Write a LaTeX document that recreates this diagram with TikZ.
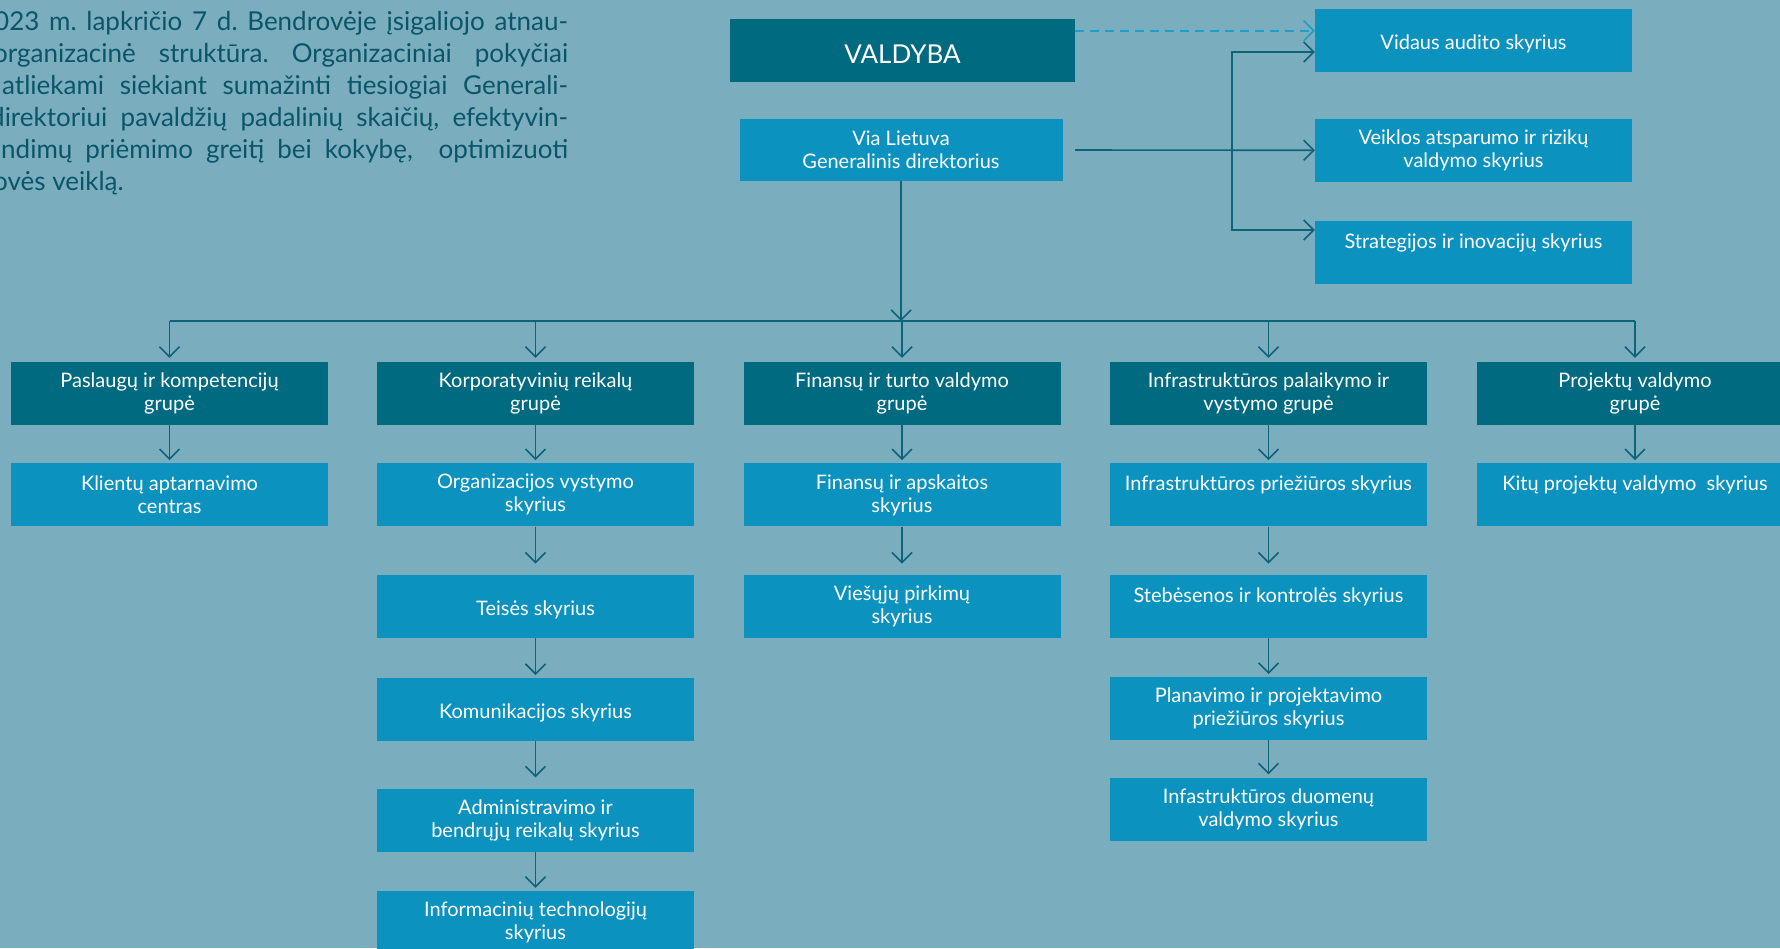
\documentclass[tikz,border=0pt]{standalone}
\usepackage{fontspec}
\setmainfont{Lato}
\usepackage{xcolor}
\usetikzlibrary{positioning,arrows.meta}

\definecolor{bgblue}{HTML}{7AADBE}
\definecolor{darkteal}{HTML}{006A80}
\definecolor{boxblue}{HTML}{0C92BE}
\definecolor{linkteal}{HTML}{0D6478}
\definecolor{dashblue}{HTML}{1E9FC8}
\definecolor{introtext}{HTML}{0B5568}

\tikzset{
  unit/.style={fill=boxblue, text=white, inner sep=0pt, minimum width=317pt,
    minimum height=63pt, align=center, font=\fontsize{20}{23}\selectfont,
    execute at begin node={\rule{0pt}{22pt}}},
  group/.style={unit, fill=darkteal},
  conn/.style={draw=linkteal, line width=1.6pt, -{Straight Barb[length=10pt,width=20pt]}},
  gap/.style={shorten >=11pt},
  bus/.style={draw=linkteal, line width=1.6pt},
  intro/.style={anchor=base west, inner sep=0pt, text=introtext,
    font=\fontsize{26}{32}\selectfont\frenchspacing}
}

\begin{document}
\begin{tikzpicture}[x=1pt,y=-1pt]
  \fill[bgblue] (0,0) rectangle (1780,948);
  \useasboundingbox (0,0) rectangle (1780,948);
  \clip (0,0) rectangle (1780,948);

  % intro text, cut at the left edge
  \node[intro] (line1) at (-6,30) {\makebox[574pt][s]{023 m. lapkričio 7 d. Bendrovėje įsigaliojo atnau-}};
  \node[intro] (line2) at (-7,62) {\makebox[575pt][s]{organizacinė struktūra. Organizaciniai pokyčiai}};
  \node[intro] (line3) at (2,94) {\makebox[566pt][s]{atliekami siekiant sumažinti tiesiogiai Generali-}};
  \node[intro] (line4) at (-10,126) {\makebox[578pt][s]{direktoriui pavaldžių padalinių skaičių, efektyvin-}};
  \node[intro] (line5) at (1,158) {\makebox[567pt][s]{ndimų priėmimo greitį bei kokybę,~ optimizuoti}};
  \node[intro] (line6) at (-7,190) {ovės veiklą.};

  % top level
  \node[group, minimum width=345pt, font=\fontsize{26}{30}\selectfont,
    execute at begin node={\rule{0pt}{26pt}}] (valdyba) at (902.5,50.5) {VALDYBA};
  \node[unit, minimum width=323pt, minimum height=62pt] (via) at (901,150) {Via Lietuva\\Generalinis direktorius};
  \node[unit] (vidaus) at (1473.5,40.5) {Vidaus audito skyrius};
  \node[unit] (veiklos) at (1473.5,150.5) {Veiklos atsparumo ir rizikų\\valdymo skyrius};
  \node[unit] (strat) at (1473.5,252.5) {Strategijos ir inovacijų skyrius\\~};

  % groups
  \node[group] (paslaugu) at (169.5,393.5) {Paslaugų ir kompetencijų\\grupė};
  \node[group] (korp) at (535.5,393.5) {Korporatyvinių reikalų\\grupė};
  \node[group] (finansu) at (902,393.5) {Finansų ir turto valdymo\\grupė};
  \node[group] (infra) at (1268.5,393.5) {Infrastruktūros palaikymo ir\\vystymo grupė};
  \node[group] (projektu) at (1635,393.5) {Projektų valdymo\\grupė};

  % units under the groups
  \node[unit, below=38pt of paslaugu] (klientu) {Klientų aptarnavimo\\centras};

  \node[unit, below=38pt of korp] (org) {Organizacijos vystymo\\skyrius};
  \node[unit, below=48pt of org] (teises) {Teisės skyrius};
  \node[unit, below=40pt of teises] (komun) {Komunikacijos skyrius};
  \node[unit, below=47pt of komun] (admin) {Administravimo ir\\bendrųjų reikalų skyrius};
  \node[unit, below=39pt of admin] (it) {Informacinių technologijų\\skyrius};

  \node[unit, below=38pt of finansu] (apskaitos) {Finansų ir apskaitos\\skyrius};
  \node[unit, below=48pt of apskaitos] (pirkimu) {Viešųjų pirkimų\\skyrius};

  \node[unit, below=38pt of infra] (prieziuros) {Infrastruktūros priežiūros skyrius\\~};
  \node[unit, below=48pt of prieziuros] (stebesenos) {Stebėsenos ir kontrolės skyrius\\~};
  \node[unit, below=39pt of stebesenos] (planavimo) {Planavimo ir projektavimo\\priežiūros skyrius};
  \node[unit, below=37pt of planavimo] (duomenu) {Infastruktūros duomenų\\valdymo skyrius};

  \node[unit, below=38pt of projektu] (kitu) {Kitų projektų valdymo~ skyrius\\~};

  % connectors at the top
  \draw[conn, draw=dashblue, dash pattern=on 9pt off 6pt]
    ([yshift=-12pt]valdyba.north east) -- ([yshift=-12pt]valdyba.north east -| vidaus.west);
  \draw[conn] (via.east -| valdyba.east) -- (veiklos);
  \coordinate (split) at (1232,150);
  \draw[conn] (split) |- ([yshift=-11.5pt]vidaus.west);
  \draw[conn] (split) |- ([yshift=22.5pt]strat.west);

  % bus to the groups
  \coordinate (busmid) at (902,321);
  \draw[conn] (via) -- (via.south |- busmid);
  \draw[bus] (paslaugu.north |- busmid) -- (projektu.north |- busmid);
  \foreach \g in {paslaugu,korp,finansu,infra,projektu}
    \draw[conn, shorten >=4pt] (\g.north |- busmid) -- (\g);

  % chains
  \foreach \a/\b in {paslaugu/klientu, korp/org, teises/komun, admin/it,
      finansu/apskaitos, stebesenos/planavimo, planavimo/duomenu, projektu/kitu}
    \draw[conn, shorten >=3pt] (\a) -- (\b);
  \foreach \a/\b in {org/teises, komun/admin, apskaitos/pirkimu, prieziuros/stebesenos}
    \draw[conn, gap] (\a) -- (\b);
  \draw[conn, shorten >=3pt] (infra) -- (prieziuros);
\end{tikzpicture}
\end{document}
